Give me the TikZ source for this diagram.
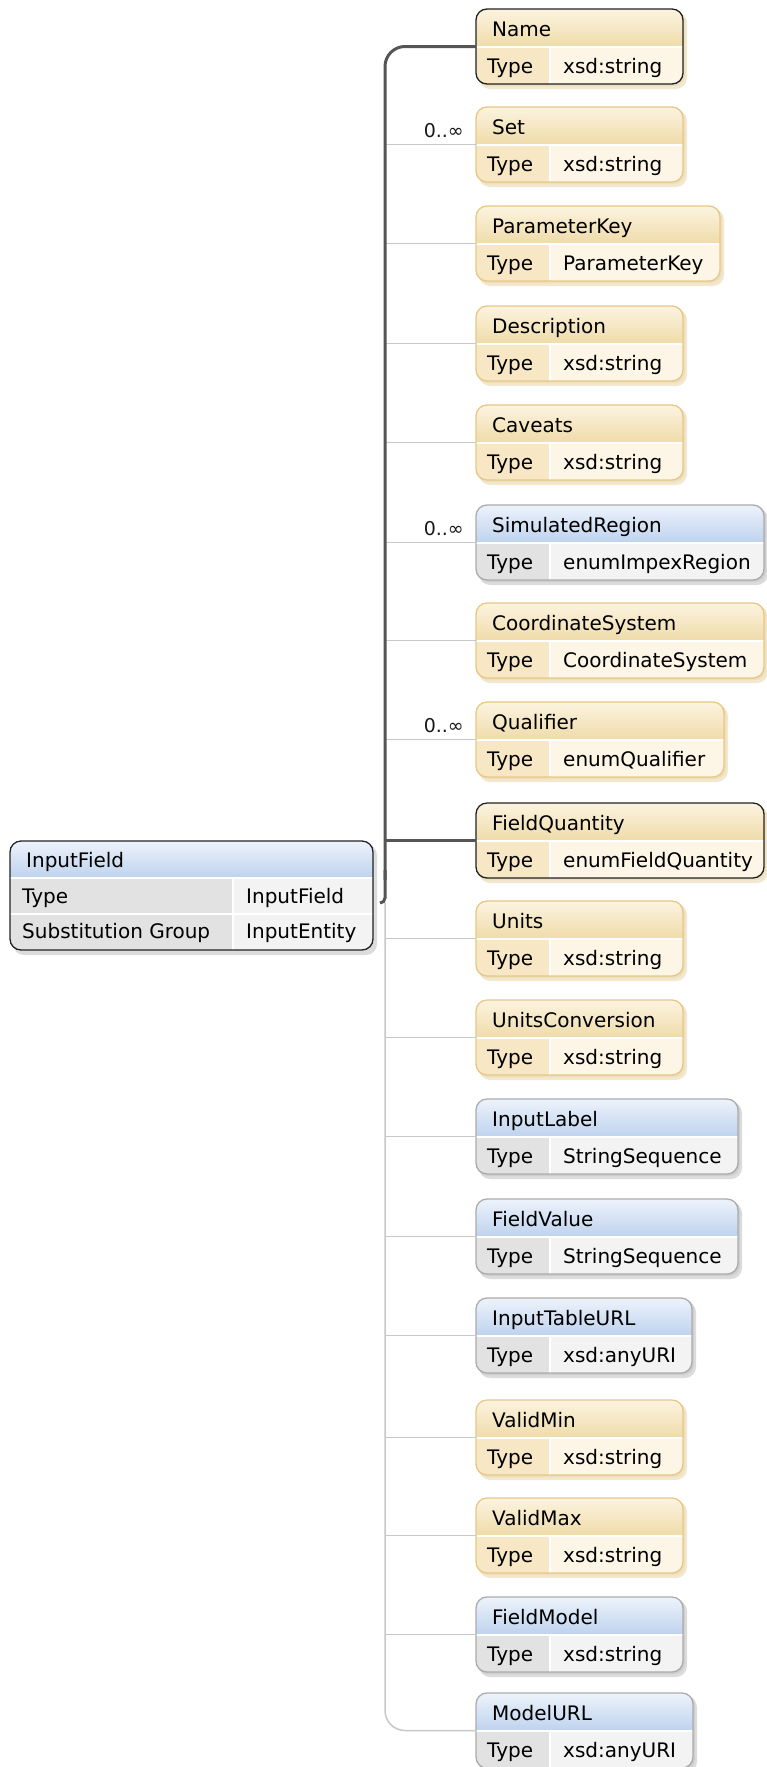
\documentclass[tikz,border=0pt]{standalone}
\usepackage{fontspec}
\setmainfont{DejaVu Sans}
\definecolor{yhtop}{HTML}{FCF4E0}
\definecolor{yhbot}{HTML}{EFDBA9}
\definecolor{ykey}{HTML}{F7E7C4}
\definecolor{yval}{HTML}{FDF6E7}
\definecolor{yborder}{HTML}{E8C784}
\definecolor{yshadow}{HTML}{E6D3A3}
\definecolor{bhtop}{HTML}{EDF3FB}
\definecolor{bhbot}{HTML}{BED2EE}
\definecolor{bkey}{HTML}{E2E2E2}
\definecolor{bval}{HTML}{F3F3F3}
\definecolor{bborder}{HTML}{ABABAB}
\definecolor{bshadow}{HTML}{BBBBBB}
\definecolor{heavyc}{HTML}{555555}
\definecolor{thinc}{HTML}{C8C8C8}
\definecolor{darkb}{HTML}{222222}
\tikzset{
  boxframe/.style={rectangle, rounded corners=11pt, line width=1.3pt, inner sep=0pt, outer sep=0pt, minimum height=75pt},
  txt/.style={anchor=base west, inner sep=0pt, font=\fontsize{20}{24}\selectfont, text=black},
  mult/.style={anchor=base east, inner sep=0pt, font=\fontsize{19}{23}\selectfont, text=black!90},
  heavy/.style={draw=heavyc, line width=3pt},
  thinline/.style={draw=thinc, line width=1.5pt},
}
\newcommand\xbox[7]{%
  \pgfmathsetmacro\xM{#2+38}%
  \pgfmathsetmacro\xB{#2+75}%
  \fill[#6shadow, opacity=.5, rounded corners=11pt] (479,#2+3) rectangle (#3+4,\xB+5);
  \fill[#6shadow, opacity=.4, rounded corners=11pt] (477,#2+1) rectangle (#3+2,\xB+2);
  \begin{scope}
    \clip[rounded corners=11pt] (476,#2) rectangle (#3,\xB);
    \shade[top color=#6htop, bottom color=#6hbot] (476,#2) rectangle (#3,\xM);
    \fill[#6key] (476,\xM) rectangle (550,\xB);
    \fill[#6val] (550,\xM) rectangle (#3,\xB);
    \draw[white, line width=1.5pt] (476,\xM) -- (#3,\xM) (550,\xM) -- (550,\xB);
  \end{scope}
  \node[boxframe, draw=#7, minimum width={(#3-476)*1pt}, anchor=north west] (#1) at (476,#2) {};
  \node[txt] (#1-t) at (492,#2+27) {#4};
  \node[txt] (#1-k) at (487,#2+64) {Type};
  \node[txt] (#1-v) at (563,#2+64) {#5};
}
\begin{document}
\begin{tikzpicture}[x=1pt,y=-1pt]
\useasboundingbox[fill=white] (0,0) rectangle (766,1767);

% root element
\fill[bshadow, opacity=.5, rounded corners=11pt] (13,844) rectangle (377,955);
\begin{scope}
  \clip[rounded corners=11pt] (10,841) rectangle (373,950);
  \shade[top color=bhtop, bottom color=bhbot] (10,841) rectangle (373,878);
  \fill[bkey] (10,878) rectangle (233,950);
  \fill[bval] (233,878) rectangle (373,950);
  \draw[white, line width=1.5pt] (10,878) -- (373,878) (10,914) -- (373,914) (233,878) -- (233,950);
\end{scope}
\node[boxframe, draw=darkb, minimum width=363pt, minimum height=109pt, anchor=north west] (InputField) at (10,841) {};
\node[txt] (InputField-t) at (26,867) {InputField};
\node[txt] (InputField-k1) at (22,903) {Type};
\node[txt] (InputField-v1) at (246,903) {InputField};
\node[txt] (InputField-k2) at (22,938) {Substitution Group};
\node[txt] (InputField-v2) at (246,938) {InputEntity};

% children
\xbox{Name}{9}{683}{Name}{xsd:string}{y}{darkb}
\xbox{Set}{107}{683}{Set}{xsd:string}{y}{yborder}
\xbox{ParameterKey}{206}{720}{ParameterKey}{ParameterKey}{y}{yborder}
\xbox{Description}{306}{683}{Description}{xsd:string}{y}{yborder}
\xbox{Caveats}{405}{683}{Caveats}{xsd:string}{y}{yborder}
\xbox{SimulatedRegion}{505}{764}{SimulatedRegion}{enumImpexRegion}{b}{bborder}
\xbox{CoordinateSystem}{603}{764}{CoordinateSystem}{CoordinateSystem}{y}{yborder}
\xbox{Qualifier}{702}{724}{Qualifier}{enumQualifier}{y}{yborder}
\xbox{FieldQuantity}{803}{764}{FieldQuantity}{enumFieldQuantity}{y}{darkb}
\xbox{Units}{901}{683}{Units}{xsd:string}{y}{yborder}
\xbox{UnitsConversion}{1000}{683}{UnitsConversion}{xsd:string}{y}{yborder}
\xbox{InputLabel}{1099}{738}{InputLabel}{StringSequence}{b}{bborder}
\xbox{FieldValue}{1199}{738}{FieldValue}{StringSequence}{b}{bborder}
\xbox{InputTableURL}{1298}{692}{InputTableURL}{xsd:anyURI}{b}{bborder}
\xbox{ValidMin}{1400}{683}{ValidMin}{xsd:string}{y}{yborder}
\xbox{ValidMax}{1498}{683}{ValidMax}{xsd:string}{y}{yborder}
\xbox{FieldModel}{1597}{683}{FieldModel}{xsd:string}{b}{bborder}
\xbox{ModelURL}{1693}{693}{ModelURL}{xsd:anyURI}{b}{bborder}

% trunk
\coordinate (trunk) at (385,0);
\coordinate (hook) at (380,903);
\coordinate (split) at (385,903);

% thin connectors
\foreach \n in {Set,ParameterKey,Description,Caveats,SimulatedRegion,CoordinateSystem,Qualifier,Units,UnitsConversion,InputLabel,FieldValue,InputTableURL,ValidMin,ValidMax,FieldModel}
  \draw[thinline] (\n.west) -- (\n.west -| trunk);
\draw[thinline, rounded corners=20pt] (split) |- (ModelURL.west);

% heavy sequence line
\draw[heavy, rounded corners=20pt] (Name.west) -| (385,880);
\draw[heavy, rounded corners=5pt] (385,870) |- (hook);
\draw[heavy] (FieldQuantity.west) -- (FieldQuantity.west -| trunk);

% multiplicities
\node[mult] (Set-m) at (464,137) {0..∞};
\node[mult] (SimulatedRegion-m) at (464,535) {0..∞};
\node[mult] (Qualifier-m) at (464,732) {0..∞};
\end{tikzpicture}
\end{document}
